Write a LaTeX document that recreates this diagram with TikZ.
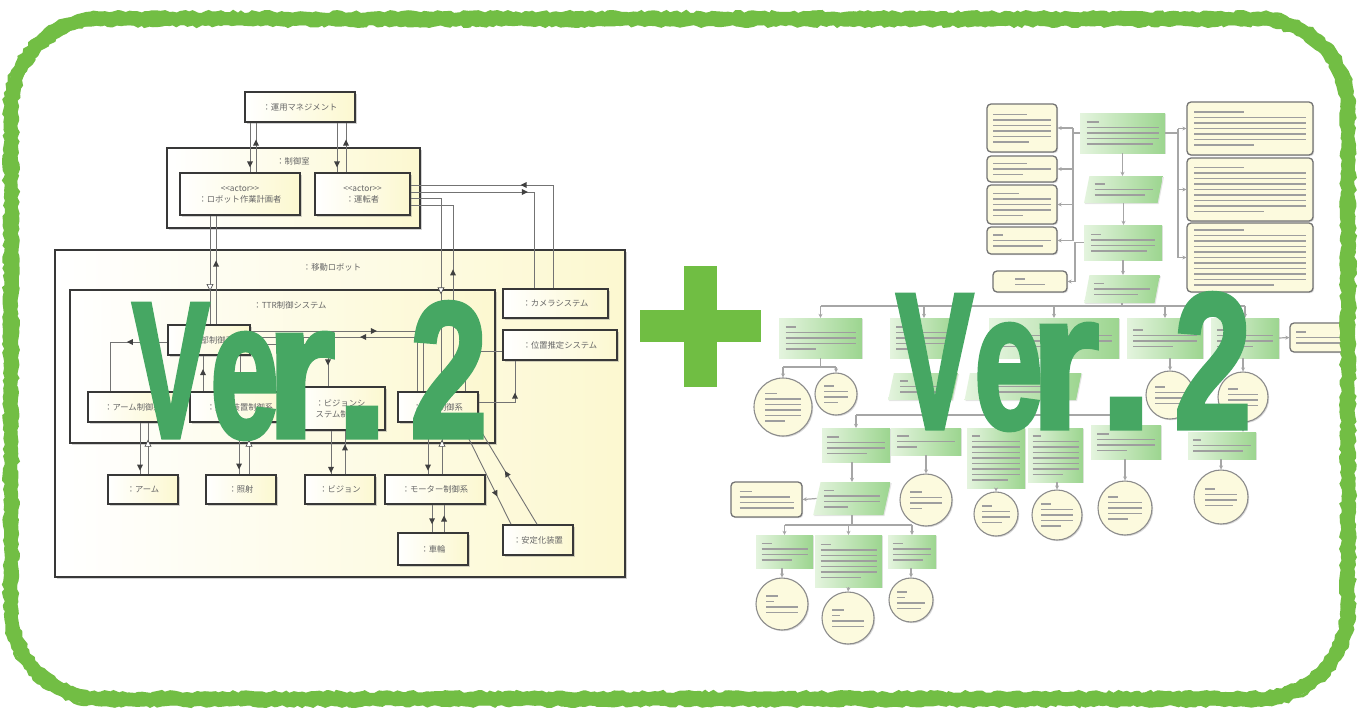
\documentclass[tikz,border=0pt]{standalone}
\usepackage{fontspec}
\usepackage{graphicx}
\usetikzlibrary{shadows,shapes.geometric,decorations.pathmorphing,decorations.markings,arrows.meta}
\newfontfamily\cjk{Noto Sans CJK JP}
\newfontfamily\verfont{Liberation Sans Bold}[FakeBold=2.6]
\definecolor{bordergreen}{RGB}{114,190,68}
\definecolor{plusgreen}{RGB}{112,190,67}
\definecolor{vergreen}{RGB}{70,167,99}
\definecolor{paleyel}{RGB}{252,248,208}
\definecolor{notey}{RGB}{252,250,222}
\definecolor{gboxL}{RGB}{228,244,222}
\definecolor{gboxR}{RGB}{156,213,143}
% a blurred line of small print
\newcommand\tb[1]{\textcolor{black!38}{\rule{#1pt}{1.5pt}}}
% rounded outline of the frame, shifted inwards by #1
\newcommand\framepath[1]{({101},{19+#1}) -- ({1258},{19+#1})
  arc[start angle=-90,end angle=0,radius={90-#1}] -- ({1348-#1},{609})
  arc[start angle=0,end angle=90,radius={90-#1}] -- ({101},{699-#1})
  arc[start angle=90,end angle=180,radius={90-#1}] -- ({11+#1},{109})
  arc[start angle=180,end angle=270,radius={90-#1}] -- cycle}
\begin{document}
\begin{tikzpicture}[x=1pt,y=-1pt,
  ubox/.style={draw=black!78, line width=1.6pt, left color=white, right color=paleyel,
    drop shadow={shadow xshift=1.5pt,shadow yshift=-1.5pt,opacity=.35},
    inner sep=0pt, align=center, text=black!60, font=\cjk\fontsize{8.3}{11}\selectfont},
  ucont/.style={ubox, line width=2pt},
  lbl/.style={inner sep=0pt, text=black!60, font=\cjk\fontsize{8.3}{10}\selectfont},
  ln/.style={draw=black!55, line width=.9pt},
  fm/.style={postaction={decorate,decoration={markings,mark=at position #1 with
    {\fill[black!75] (3pt,0pt) -- (-3pt,3pt) -- (-3pt,-3pt) -- cycle;}}}},
  hm/.style={postaction={decorate,decoration={markings,mark=at position #1 with
    {\filldraw[fill=white,draw=black!70,line width=.7pt] (3pt,0pt) -- (-3pt,3pt) -- (-3pt,-3pt) -- cycle;}}}},
  small/.style={inner sep=0pt, align=left, font=\fontsize{4}{5.5}\selectfont},
  gb/.style={small, rectangle, left color=gboxL, right color=gboxR,
    drop shadow={shadow xshift=1pt,shadow yshift=-1pt,opacity=.2}},
  pg/.style={small, trapezium, trapezium left angle=70, trapezium right angle=110,
    trapezium stretches=true, left color=gboxL, right color=gboxR,
    drop shadow={shadow xshift=1pt,shadow yshift=-1pt,opacity=.2}},
  nt/.style={small, rectangle, rounded corners=4pt, draw=black!55, line width=1.3pt, fill=notey,
    drop shadow={shadow xshift=1.2pt,shadow yshift=-1.2pt,opacity=.3}},
  cc/.style={small, circle, draw=black!45, line width=1.1pt, fill=notey,
    drop shadow={shadow xshift=1.2pt,shadow yshift=-1.2pt,opacity=.3}},
  rl/.style={draw=black!35, line width=1.2pt},
  rt/.style={rl, -{Stealth[length=4pt,width=4pt]}},
  verch/.style={anchor=base west, inner sep=0pt, text=vergreen,
    font=\verfont\fontsize{193}{193}\selectfont},
  ragged/.style={bordergreen, line width=3pt, decorate,
    decoration={random steps,segment length=4pt,amplitude=1.5pt}}
]
\useasboundingbox (0,0) rectangle (1359,713);
\fill[white] (0,0) rectangle (1359,713);

% guide lines for the vertical and horizontal runs of the connectors
\foreach \g in {110,140,148,203,210,216,239,240,249,250,256,328,331,337,345,346,417,423,428,432,441,442,444,453,461,465,476,511,515,534,537,553,1073,1075,1178}
  {\coordinate (v\g) at (\g,0);}
\foreach \g in {185,192,198,205,331,337,342,344,351,402,306,367,415,525}
  {\coordinate (h\g) at (0,\g);}

% ---------------- communication diagram ----------------
\node[ucont, minimum width=570pt, minimum height=327pt] (robot) at (340,413.5) {};
\node[lbl] (robotlbl) at (332,267) {：移動ロボット};
\node[ucont, minimum width=425pt, minimum height=153pt] (ttr) at (282.5,366.5) {};
\node[lbl] (ttrlbl) at (290,305) {：TTR制御システム};
\node[ucont, minimum width=253pt, minimum height=80pt] (room) at (293.5,188) {};
\node[lbl] (roomlbl) at (293,161) {：制御室};

\node[ubox, minimum width=110pt, minimum height=30pt] (ops) at (300,107) {：運用マネジメント};
\node[ubox, minimum width=120pt, minimum height=42pt] (plan) at (240,194) {<<actor>>\\：ロボット作業計画者};
\node[ubox, minimum width=95pt, minimum height=42pt] (drv) at (362.5,194) {<<actor>>\\：運転者};

\node[ubox, minimum width=82pt, minimum height=30pt] (ext) at (209,340) {：外部制御系};
\node[ubox, minimum width=90pt, minimum height=30pt] (armc) at (133,407) {：アーム制御系};
\node[ubox, minimum width=100pt, minimum height=30pt] (irrc) at (240,407) {：照射装置制御系};
\node[ubox, minimum width=89pt, minimum height=43pt] (visc) at (340.5,408.5) {：ビジョンシ\\ステム制御系};
\node[ubox, minimum width=80pt, minimum height=30pt] (movc) at (438,407) {：移動制御系};
\node[ubox, minimum width=105pt, minimum height=29pt] (cam) at (555.5,303.5) {：カメラシステム};
\node[ubox, minimum width=114pt, minimum height=30pt] (pos) at (560,345) {：位置推定システム};

\node[ubox, minimum width=70pt, minimum height=29pt] (arm) at (143,489.5) {：アーム};
\node[ubox, minimum width=70pt, minimum height=29pt] (irr) at (241,489.5) {：照射};
\node[ubox, minimum width=70pt, minimum height=29pt] (vis) at (340,489.5) {：ビジョン};
\node[ubox, minimum width=100pt, minimum height=29pt] (mot) at (435,489.5) {：モーター制御系};
\node[ubox, minimum width=70pt, minimum height=32pt] (whl) at (433,549) {：車輪};
\node[ubox, minimum width=70pt, minimum height=30pt] (stb) at (538,540) {：安定化装置};

% links
\draw[ln, fm=0.84] (ops.south -| v250) -- (plan.north -| v250);
\draw[ln, fm=0.6] (plan.north -| v256) -- (ops.south -| v256);
\draw[ln, fm=0.84] (ops.south -| v337) -- (drv.north -| v337);
\draw[ln, fm=0.6] (drv.north -| v346) -- (ops.south -| v346);
\draw[ln, hm=0.66] (plan.south -| v210) -- (ext.north -| v210);
\draw[ln, fm=0.56] (ext.north -| v216) -- (plan.south -| v216);
\draw[ln, hm=0.55] (drv.east |- h198) -| (movc.north -| v441);
\draw[ln, fm=0.52] (movc.north -| v453) |- (drv.east |- h205);
\draw[ln, fm=0.54] (cam.north -| v553) |- (drv.east |- h185);
\draw[ln, fm=0.52] (drv.east |- h192) -| (cam.north -| v534);
\draw[ln, fm=0.35] (ext.west |- h342) -| (armc.north -| v110);
\draw[ln, fm=0.54] (irrc.north -| v203) -- (ext.south -| v203);
\draw[ln, fm=0.6] (ext.south -| v240) -- (irrc.north -| v240);
\draw[ln, fm=0.8] (ext.east |- h344) -| (visc.north -| v328);
\draw[ln, fm=0.53] (ext.east |- h331) -| (movc.north -| v423);
\draw[ln, fm=0.49] (movc.north -| v417) |- (ext.east |- h337);
\draw[ln, hm=0.52] (pos.west |- h351) -| (movc.north -| v465);
\draw[ln, fm=0.55] (movc.east |- h402) -| (pos.south -| v515);
\draw[ln, fm=0.87] (armc.south -| v140) -- (arm.north -| v140);
\draw[ln, hm=0.6] (arm.north -| v148) -- (armc.south -| v148);
\draw[ln, fm=0.85] (irrc.south -| v239) -- (irr.north -| v239);
\draw[ln, hm=0.6] (irr.north -| v249) -- (irrc.south -| v249);
\draw[ln, fm=0.9] (visc.south -| v331) -- (vis.north -| v331);
\draw[ln, fm=0.62] (vis.north -| v345) -- (visc.south -| v345);
\draw[ln, fm=0.87] (movc.south -| v428) -- (mot.north -| v428);
\draw[ln, hm=0.6] (mot.north -| v442) -- (movc.south -| v442);
\draw[ln, fm=0.6] (mot.south -| v432) -- (whl.north -| v432);
\draw[ln, fm=0.5] (whl.north -| v444) -- (mot.south -| v444);
\draw[ln, fm=0.7] (movc.south -| v461) -- (stb.north -| v511);
\draw[ln, fm=0.5] (stb.north -| v537) -- (movc.south -| v476);

% ---------------- goal tree ----------------
\node[nt, minimum width=70pt, minimum height=48pt] (N1) at (1022,128) {\tb{34}\\\tb{58}\\\tb{58}\\\tb{58}\\\tb{58}\\\tb{36}};
\node[nt, minimum width=70pt, minimum height=26pt] (N2) at (1022,169) {\tb{34}\\\tb{58}\\\tb{30}};
\node[nt, minimum width=70pt, minimum height=39pt] (N3) at (1022,204.5) {\tb{26}\\\tb{58}\\\tb{58}\\\tb{58}\\\tb{30}};
\node[nt, minimum width=70pt, minimum height=27pt] (N4) at (1022,240.5) {\tb{10}\\\tb{58}\\\tb{50}};
\node[nt, minimum width=74pt, minimum height=21pt] (N5) at (1030,281.5) {\tb{10}\\\tb{30}};
\node[gb, minimum width=85pt, minimum height=40pt] (G1) at (1122.5,133) {\tb{12}\\\tb{72}\\\tb{72}\\\tb{72}\\\tb{66}};
\node[pg, minimum width=79pt, minimum height=27pt] (G2) at (1123.5,189.5) {\tb{10}\\\tb{58}\\\tb{50}};
\node[gb, minimum width=78pt, minimum height=35pt] (G3) at (1123,242.5) {\tb{10}\\\tb{64}\\\tb{64}\\\tb{56}};
\node[pg, minimum width=76pt, minimum height=28pt] (G4) at (1122,289) {\tb{10}\\\tb{56}\\\tb{44}};
\node[nt, minimum width=126pt, minimum height=53pt] (R1) at (1250,128.5) {\tb{50}\\\tb{112}\\\tb{112}\\\tb{112}\\\tb{112}\\\tb{112}\\\tb{60}};
\node[nt, minimum width=126pt, minimum height=63pt] (R2) at (1250,189.5) {\tb{50}\\\tb{112}\\\tb{112}\\\tb{112}\\\tb{112}\\\tb{112}\\\tb{112}\\\tb{112}\\\tb{70}};
\node[nt, minimum width=126pt, minimum height=69pt] (R3) at (1250,257.5) {\tb{50}\\\tb{112}\\\tb{112}\\\tb{112}\\\tb{112}\\\tb{112}\\\tb{112}\\\tb{112}\\\tb{112}\\\tb{112}\\\tb{80}};

\node[gb, minimum width=83pt, minimum height=40pt] (H1) at (820.5,338) {\tb{10}\\\tb{70}\\\tb{70}\\\tb{70}\\\tb{30}};
\node[gb, minimum width=68pt, minimum height=40pt] (H2) at (924,338) {\tb{10}\\\tb{56}\\\tb{56}\\\tb{56}\\\tb{30}};
\node[gb, minimum width=130pt, minimum height=40pt] (H3) at (1054,338) {\tb{10}\\\tb{116}\\\tb{116}\\\tb{100}};
\node[gb, minimum width=76pt, minimum height=40pt] (H4) at (1165,338) {\tb{10}\\\tb{64}\\\tb{64}\\\tb{40}};
\node[gb, minimum width=68pt, minimum height=40pt] (H5) at (1245,338) {\tb{10}\\\tb{56}\\\tb{56}\\\tb{36}};
\node[nt, minimum width=56pt, minimum height=29pt] (H6) at (1318,337.5) {\tb{10}\\\tb{44}\\\tb{44}};
\node[cc, minimum size=58pt] (C1) at (783,407) {\tb{12}\\\tb{36}\\\tb{36}\\\tb{36}\\\tb{36}\\\tb{20}};
\node[cc, minimum size=42pt] (C2) at (836,394) {\tb{10}\\\tb{24}\\\tb{24}\\\tb{14}};
\node[pg, minimum width=70pt, minimum height=27pt] (P1) at (923,386.5) {\tb{8}\\\tb{46}\\\tb{46}};
\node[pg, minimum width=118pt, minimum height=27pt] (P2) at (1023,386.5) {\tb{8}\\\tb{90}\\\tb{90}};
\node[cc, minimum size=48pt] (C4) at (1170,395) {\tb{10}\\\tb{30}\\\tb{30}\\\tb{30}};
\node[cc, minimum size=50pt] (C5) at (1243,397) {\tb{10}\\\tb{30}\\\tb{30}\\\tb{30}};

\node[gb, minimum width=68pt, minimum height=34pt] (T1) at (856,445) {\tb{12}\\\tb{58}\\\tb{58}\\\tb{40}};
\node[gb, minimum width=70pt, minimum height=27pt] (T2) at (926,441.5) {\tb{12}\\\tb{58}\\\tb{20}};
\node[gb, minimum width=58pt, minimum height=60pt] (T3) at (996,458) {\tb{8}\\\tb{48}\\\tb{48}\\\tb{48}\\\tb{48}\\\tb{48}\\\tb{48}\\\tb{48}\\\tb{36}};
\node[gb, minimum width=55pt, minimum height=54pt] (T4) at (1055.5,455) {\tb{8}\\\tb{46}\\\tb{46}\\\tb{46}\\\tb{46}\\\tb{46}\\\tb{46}\\\tb{30}};
\node[gb, minimum width=70pt, minimum height=34pt] (T5) at (1126,442) {\tb{12}\\\tb{58}\\\tb{58}\\\tb{30}};
\node[gb, minimum width=68pt, minimum height=27pt] (T6) at (1222,445.5) {\tb{8}\\\tb{58}\\\tb{50}};
\node[nt, minimum width=71pt, minimum height=35pt] (NL) at (766.5,499.5) {\tb{12}\\\tb{50}\\\tb{54}\\\tb{54}};
\node[pg, minimum width=78pt, minimum height=33pt] (Q) at (852,498.5) {\tb{10}\\\tb{56}\\\tb{56}\\\tb{24}};
\node[cc, minimum size=52pt] (CT2) at (926,500) {\tb{12}\\\tb{32}\\\tb{32}\\\tb{12}};
\node[cc, minimum size=44pt] (CT3) at (996,514) {\tb{10}\\\tb{28}\\\tb{28}\\\tb{20}};
\node[cc, minimum size=50pt] (CT4) at (1057,515) {\tb{10}\\\tb{32}\\\tb{32}\\\tb{32}\\\tb{20}};
\node[cc, minimum size=54pt] (CT5) at (1125,508) {\tb{10}\\\tb{34}\\\tb{34}\\\tb{34}\\\tb{20}};
\node[cc, minimum size=54pt] (CT6) at (1221,497) {\tb{10}\\\tb{32}\\\tb{32}\\\tb{28}};
\node[gb, minimum width=57pt, minimum height=33pt] (U1) at (784.5,551.5) {\tb{10}\\\tb{46}\\\tb{46}\\\tb{30}};
\node[gb, minimum width=67pt, minimum height=52pt] (U2) at (848.5,561) {\tb{10}\\\tb{56}\\\tb{56}\\\tb{56}\\\tb{56}\\\tb{56}\\\tb{40}};
\node[gb, minimum width=48pt, minimum height=33pt] (U3) at (912,551.5) {\tb{10}\\\tb{38}\\\tb{38}\\\tb{30}};
\node[cc, minimum size=52pt] (CU1) at (782,604) {\tb{12}\\\tb{8}\\\tb{32}\\\tb{32}};
\node[cc, minimum size=52pt] (CU2) at (848,618) {\tb{12}\\\tb{8}\\\tb{32}\\\tb{32}};
\node[cc, minimum size=44pt] (CU3) at (911,600) {\tb{10}\\\tb{8}\\\tb{28}\\\tb{24}};

% tree links
\draw[rl] (G1.west) -- (G1.west -| v1073);
\draw[rl] (N1.east -| v1073) -- (N4.east -| v1073);
\foreach \n in {N1,N2,N3,N4} {\draw[rt] (\n.east -| v1073) -- (\n.east);}
\draw[rt] (G3.west) -| (v1075 |- N5.east) -- (N5.east);
\draw[rl] (G1.east) -- (G1.east -| v1178);
\draw[rl] (R1.west -| v1178) -- (R3.west -| v1178);
\foreach \n in {R1,R2,R3} {\draw[rt] (\n.west -| v1178) -- (\n.west);}
\draw[rt] (G1.south) -- (G1.south |- G2.north);
\draw[rt] (G2.south) -- (G2.south |- G3.north);
\draw[rt] (G3.south) -- (G3.south |- G4.north);
\draw[rl] (G4.south) -- (G4.south |- h306);
\draw[rl] (H1.north |- h306) -- (H5.north |- h306);
\foreach \n in {H1,H2,H3,H4,H5} {\draw[rt] (\n.north |- h306) -- (\n.north);}
\draw[rt] (H5.east) -- (H6.west);
\draw[rl] (H1.south) -- (H1.south |- h367);
\draw[rl] (C1.north |- h367) -- (C2.north |- h367);
\draw[rt] (C1.north |- h367) -- (C1.north);
\draw[rt] (C2.north |- h367) -- (C2.north);
\draw[rt] (H2.south) -- (H2.south |- P1.north);
\draw[rt] (H3.south) -- (H3.south |- P2.north);
\draw[rt] (C4.north |- H4.south) -- (C4.north);
\draw[rt] (C5.north |- H5.south) -- (C5.north);
\draw[rl] (P1.south) -- (P1.south |- h415);
\draw[rl] (P2.south) -- (P2.south |- h415);
\draw[rl] (T1.north |- h415) -- (T5.north |- h415);
\foreach \n in {T1,T2,T3,T4,T5} {\draw[rt] (\n.north |- h415) -- (\n.north);}
\draw[rt] (C5.south) -- (C5.south |- T6.north);
\draw[rt] (T2.south -| CT2.north) -- (CT2.north);
\draw[rt] (T3.south -| CT3.north) -- (CT3.north);
\draw[rt] (T4.south -| CT4.north) -- (CT4.north);
\draw[rt] (T5.south -| CT5.north) -- (CT5.north);
\draw[rt] (T6.south -| CT6.north) -- (CT6.north);
\draw[rt] (T1.south -| Q.north) -- (Q.north);
\draw[rt] (Q.west) -- (NL.east);
\draw[rl] (Q.south) -- (Q.south |- h525);
\draw[rl] (U1.north |- h525) -- (U3.north |- h525);
\foreach \n in {U1,U2,U3} {\draw[rt] (\n.north |- h525) -- (\n.north);}
\draw[rt] (U1.south -| CU1.north) -- (CU1.north);
\draw[rt] (U2.south) -- (CU2.north);
\draw[rt] (U3.south -| CU3.north) -- (CU3.north);

% ---------------- chalky frame ----------------
\pgfmathsetseed{7}
\draw[bordergreen, line width=12pt] \framepath{0};
\draw[ragged] \framepath{-6};
\draw[ragged] \framepath{6};

% ---------------- plus sign ----------------
\fill[plusgreen] (640,310) rectangle (761,342);
\fill[plusgreen] (684,266) rectangle (717,387);

% ---------------- version labels ----------------
\node[verch] (lV) at (132,437) {\scalebox{.6}[1]{V}};
\node[verch] (le) at (210,437) {\scalebox{.64}[1]{e}};
\node[verch] (lr) at (266,437) {\scalebox{.92}[1]{r}};
\node[verch] (ld) at (335,437) {\scalebox{1}[1]{.}};
\node[verch] (l2) at (410,437) {\scalebox{.72}[1]{2}};
\node[verch] (rV) at (896,428) {\scalebox{.6}[1]{V}};
\node[verch] (re) at (974,428) {\scalebox{.64}[1]{e}};
\node[verch] (rr) at (1030,428) {\scalebox{.92}[1]{r}};
\node[verch] (rd) at (1099,428) {\scalebox{1}[1]{.}};
\node[verch] (r2) at (1174,428) {\scalebox{.72}[1]{2}};
\end{tikzpicture}
\end{document}
